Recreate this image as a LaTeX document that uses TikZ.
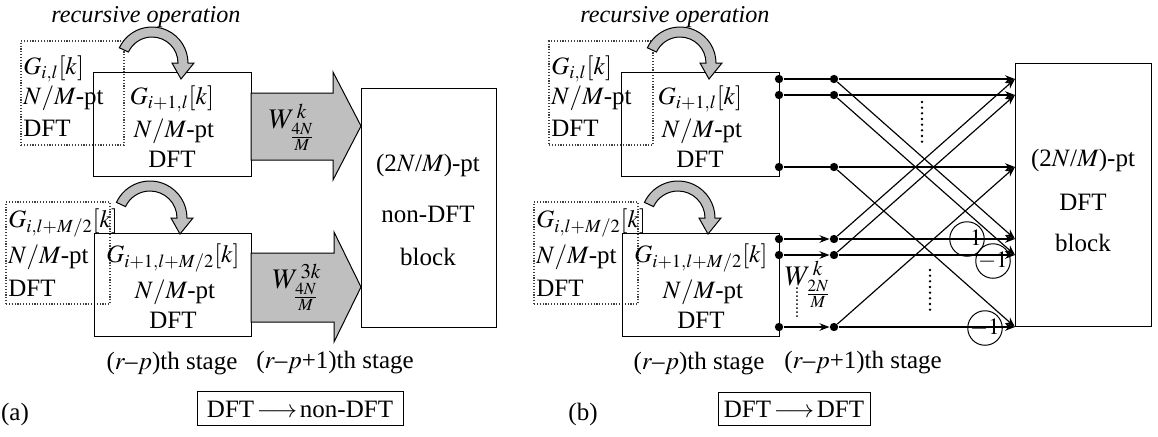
\documentclass[tikz,border=0pt]{standalone}
\usepackage{mathptmx}
\usepackage{fontspec}
\setmainfont{Liberation Serif}
\usetikzlibrary{arrows.meta,fit}
\newcommand\curvarr[2]{%
  \filldraw[garrow] (205:#1) arc[start angle=205,end angle=360,radius=#1]
    -- ({#1+6},0) -- ({(#1+#2)/2-2},16) -- ({#2-6},0) -- (#2,0)
    arc[start angle=360,end angle=205,radius=#2] -- cycle;}
\begin{document}
\begin{tikzpicture}[x=0.6pt,y=-0.6pt,
  font=\fontsize{15}{18}\selectfont,
  solidbox/.style={draw,line width=0.6pt,inner sep=0pt},
  dotbox/.style={draw=black!75,densely dotted,line width=0.7pt,inner sep=0pt},
  garrow/.style={fill=gray!50,draw=black,line width=0.6pt,line join=miter},
  lbl/.style={inner sep=0pt,anchor=center},
  wlbl/.style={inner sep=0pt,anchor=center,font=\fontsize{17}{20}\selectfont},
  lbw/.style={inner sep=0pt,anchor=west},
  dotn/.style={circle,fill,inner sep=0pt,minimum size=5pt},
  wire/.style={line width=0.7pt},
  arr/.style={wire,-{Stealth[length=6pt,width=4.5pt]}},
  neg/.style={circle,draw,line width=0.6pt,inner sep=0pt,minimum size=16.5pt,font=\fontsize{14}{14}\selectfont},
  dotline/.style={line width=1.6pt,line cap=round,dash pattern=on 0pt off 3.4pt},
  capbox/.style={draw,line width=0.6pt,inner sep=0pt}]
\useasboundingbox (0,0) rectangle (1158,436);

% ================= (a) =================
\node[lbl,font=\fontsize{14.5}{17}\selectfont] (reca) at (146,17) {\itshape recursive operation};
\node[dotbox,fit={(21,41) (124,145)}] (dA1) {};
\node[lbw] (dA1t1) at (23,69) {$G_{i,l}[k]$};
\node[lbw] (dA1t2) at (23,98) {$N/M$-pt};
\node[lbw] (dA1t3) at (23,128) {DFT};
\node[solidbox,fit={(93,72) (251,176)}] (sA1) {};
\node[lbl] (sA1t1) at (172,99) {$G_{i+1,l}[k]$};
\node[lbl] (sA1t2) at (174,131) {$N/M$-pt};
\node[lbl] (sA1t3) at (172,159) {DFT};

\node[dotbox,fit={(6,202) (110,304)}] (dA2) {};
\node[lbw] (dA2t1) at (8,223) {$G_{i,l+M/2}[k]$};
\node[lbw] (dA2t2) at (8,257) {$N/M$-pt};
\node[lbw] (dA2t3) at (8,288) {DFT};
\node[solidbox,fit={(94,233) (251,336)}] (sA2) {};
\node[lbl] (sA2t1) at (173,258) {$G_{i+1,l+M/2}[k]$};
\node[lbl] (sA2t2) at (175,292) {$N/M$-pt};
\node[lbl] (sA2t3) at (173,320) {DFT};

\filldraw[garrow] (251,93) -- (333,93) -- (333,72) -- (361,126) -- (333,180) -- (333,160) -- (251,160) -- cycle;
\filldraw[garrow] (251,253) -- (334,253) -- (334,232) -- (361,287) -- (334,342) -- (334,322) -- (251,322) -- cycle;
\node[wlbl] (wA1) at (292,127) {$W^{\,k}_{\frac{4N}{M}}$};
\node[wlbl] (wA2) at (297,287) {$W^{\,3k}_{\frac{4N}{M}}$};

\node[solidbox,fit={(361,88) (496,327)}] (ndA) {};
\node[lbl] (ndAt1) at (428,165) {(2$N$/$M$)-pt};
\node[lbl] (ndAt2) at (428,214) {non-DFT};
\node[lbl] (ndAt3) at (428,257) {block};

\begin{scope}[shift={(152,63)}]\curvarr{36}{26}\end{scope}
\begin{scope}[shift={(150,218)}]\curvarr{37}{27}\end{scope}

\node[lbl] (stA1) at (172,364) {($r$--$p$)th stage};
\node[lbl] (stA2) at (335,363) {($r$--$p$+1)th stage};
\node[capbox,fit={(197,391) (403,425)}] (capA) {};
\node[lbl] (capAt) at (300,409) {DFT$\,\longrightarrow\,$non-DFT};
\node[lbl] (labA) at (15,414) {(a)};

% ================= (b) =================
\node[lbl,font=\fontsize{14.5}{17}\selectfont] (recb) at (675,17) {\itshape recursive operation};
\node[dotbox,fit={(549,41) (653,145)}] (dB1) {};
\node[lbw] (dB1t1) at (551,69) {$G_{i,l}[k]$};
\node[lbw] (dB1t2) at (551,98) {$N/M$-pt};
\node[lbw] (dB1t3) at (551,128) {DFT};
\node[solidbox,fit={(621,72) (779,176)}] (sB1) {};
\node[lbl] (sB1t1) at (700,99) {$G_{i+1,l}[k]$};
\node[lbl] (sB1t2) at (702,131) {$N/M$-pt};
\node[lbl] (sB1t3) at (700,159) {DFT};

\node[dotbox,fit={(534,202) (638,304)}] (dB2) {};
\node[lbw] (dB2t1) at (536,223) {$G_{i,l+M/2}[k]$};
\node[lbw] (dB2t2) at (536,257) {$N/M$-pt};
\node[lbw] (dB2t3) at (536,288) {DFT};
\node[solidbox,fit={(622,233) (779,336)}] (sB2) {};
\node[lbl] (sB2t1) at (701,258) {$G_{i+1,l+M/2}[k]$};
\node[lbl] (sB2t2) at (703,292) {$N/M$-pt};
\node[lbl] (sB2t3) at (701,320) {DFT};

\begin{scope}[shift={(680,63)}]\curvarr{36}{26}\end{scope}
\begin{scope}[shift={(678,218)}]\curvarr{37}{27}\end{scope}

\node[solidbox,fit={(1015,63) (1151,326)}] (dftB) {};
\node[lbl] (dftBt1) at (1083,160) {(2$N$/$M$)-pt};
\node[lbl] (dftBt2) at (1083,202) {DFT};
\node[lbl] (dftBt3) at (1083,243) {block};

% butterfly network
\foreach \i/\y in {1/79,2/95,3/167,4/239,5/255,6/327}{
  \node[dotn] (a\i) at (779,\y) {};
  \node[dotn] (b\i) at (834,\y) {};
  \coordinate (c\i) at (1015,\y);
}
\foreach \i in {1,2,3}{\draw[wire] (a\i) -- (b\i);}
\foreach \i in {4,5,6}{\draw[arr] (a\i) -- (b\i);}
\foreach \i in {1,...,6}{\draw[arr] (b\i) -- (c\i);}
\draw[arr] (b1) -- (c4);
\draw[arr] (b2) -- (c5);
\draw[arr] (b3) -- (c6);
\draw[arr] (b4) -- (c1);
\draw[arr] (b5) -- (c2);
\draw[arr] (b6) -- (c3);

\node[neg] (m1) at (967,239) {$-1$};
\node[neg] (m2) at (993,261) {$-1$};
\node[neg] (m3) at (985,328) {$-1$};

\coordinate (v1a) at (922,102); \coordinate (v1b) at (922,142);
\coordinate (v2a) at (930,270); \coordinate (v2b) at (930,310);
\coordinate (v3a) at (797,288); \coordinate (v3b) at (797,318);
\draw[dotline] (v1a) -- (v1b);
\draw[dotline] (v2a) -- (v2b);
\draw[dotline,line width=1.2pt,dash pattern=on 0pt off 2.4pt] (v3a) -- (v3b);
\node[wlbl] (wB) at (808,284) {$W^{\,k}_{\frac{2N}{M}}$};

\node[lbl] (stB1) at (699,364) {($r$--$p$)th stage};
\node[lbl] (stB2) at (863,363) {($r$--$p$+1)th stage};
\node[capbox,fit={(718,392) (870,425)}] (capB) {};
\node[lbl] (capBt) at (794,409) {DFT$\,\longrightarrow\,$DFT};
\node[lbl] (labB) at (583,414) {(b)};
\end{tikzpicture}
\end{document}
